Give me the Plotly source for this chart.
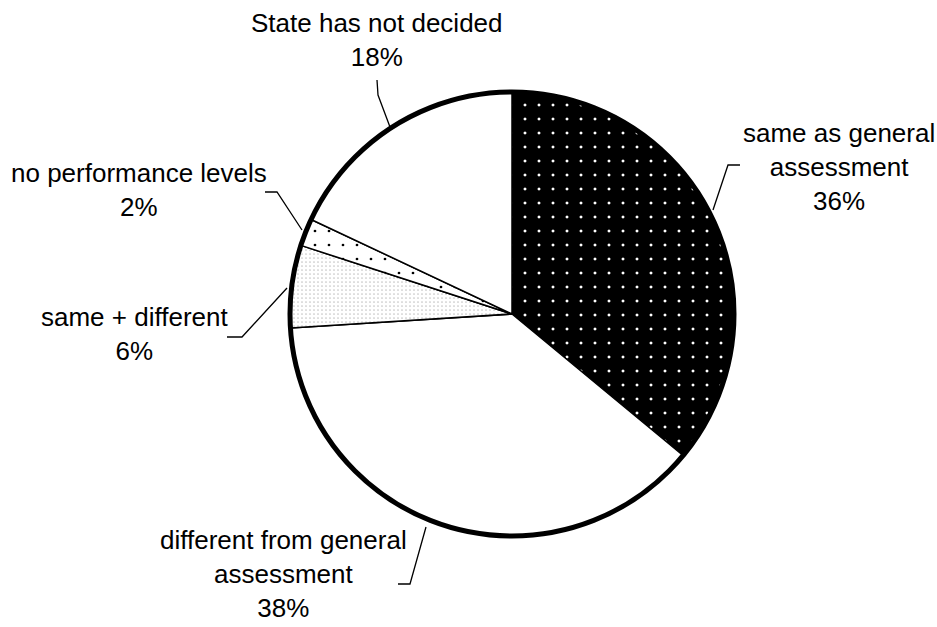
import plotly.graph_objects as go

# ---- data ----
categories = ["same as general assessment", "different from general assessment",
              "same + different", "no performance levels", "State has not decided"]
values = [36, 38, 6, 2, 18]
label_texts = ["same as general<br>assessment<br>36%",
               "different from general<br>assessment<br>38%",
               "same + different<br>6%",
               "no performance levels<br>2%",
               "State has not decided<br>18%"]

W, H = 937, 627
CX, CY, R = 512, 314, 222

def px(x):
    return x / W

def py(y):
    return 1 - y / H

dom = dict(x=[px(CX - R), px(CX + R)], y=[py(CY + R), py(CY - R)])

fig = go.Figure()
fig.add_trace(go.Pie(
    labels=categories, values=values, sort=False, direction="clockwise", rotation=0,
    domain=dom, textinfo="none", hoverinfo="label+percent",
    marker=dict(
        colors=["black", "white", "white", "white", "white"],
        line=dict(color="black", width=1.5),
        pattern=dict(
            shape=[".", "", ".", ".", ""],
            bgcolor=["black", "white", "white", "white", "white"],
            fgcolor=["white", "white", "#c4c4c4", "black", "white"],
            size=[14, 8, 4, 14, 8],
            solidity=[0.036, 0.1, 0.14, 0.03, 0.1],
            fillmode="replace",
        ),
    ),
    showlegend=False,
))
# thick outer ring
fig.add_trace(go.Pie(
    values=[1], labels=["ring"], domain=dom, textinfo="none", hoverinfo="skip",
    marker=dict(colors=["rgba(0,0,0,0)"], line=dict(color="black", width=5)),
    showlegend=False, sort=False,
))

# label positions (pixel centers x, top y) and leader lines
label_pos = [(839, 117), (283, 524), (134, 301), (139, 157), (377, 7)]
leaders = [
    [(740, 165), (728, 165), (713, 210)],
    [(398, 584), (410, 584), (426, 527)],
    [(227, 337), (242, 337), (287, 288)],
    [(265, 192), (277, 192), (302, 230)],
    [(377, 80), (378, 95), (390, 127)],
]

font = dict(family="Liberation Sans, Arial, sans-serif", size=26, color="black")
annotations = []
for t, (x, y) in zip(label_texts, label_pos):
    annotations.append(dict(text=t, x=px(x), y=py(y), xref="paper", yref="paper",
                            xanchor="center", yanchor="top", showarrow=False,
                            borderpad=0, font=font, align="center"))
shapes = []
for pts in leaders:
    path = "M " + " L ".join(f"{px(a):.5f},{py(b):.5f}" for a, b in pts)
    shapes.append(dict(type="path", path=path, xref="paper", yref="paper",
                       line=dict(color="black", width=1.3)))

fig.update_layout(
    width=W, height=H, margin=dict(l=0, r=0, t=0, b=0),
    paper_bgcolor="white", plot_bgcolor="white",
    annotations=annotations, shapes=shapes,
)
fig.write_html("out.html", config={"displayModeBar": False},
               post_script="document.body.style.margin='0';document.body.style.overflow='hidden';")
